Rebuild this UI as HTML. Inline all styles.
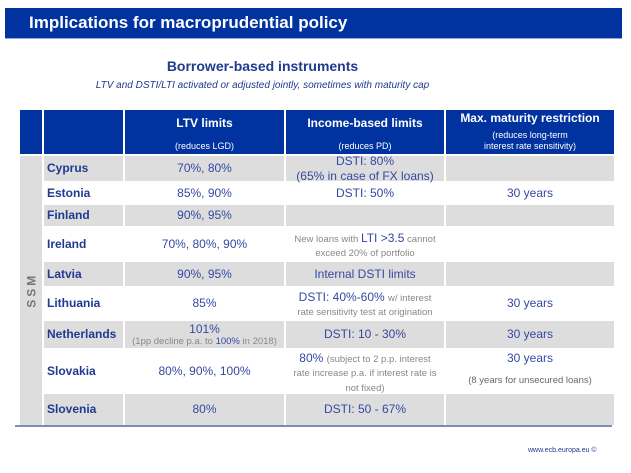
<!DOCTYPE html>
<html><head><meta charset="utf-8"><style>
body{margin:0;width:631px;height:473px;background:#fff;position:relative;overflow:hidden;font-family:"Liberation Sans",sans-serif}
.tb{position:absolute;left:5px;top:8px;width:617px;height:30px;background:#0033a0;border-bottom:1px solid #8fa6d8}
.tb span{position:absolute;left:24px;top:5px;color:#fff;font-weight:bold;font-size:17px}
.sub{position:absolute;left:0;width:525px;text-align:center;color:#1f3a8f}
.grid{position:absolute;left:20px;top:110px;display:grid;grid-template-columns:22px 79px 159px 158px 168px;grid-template-rows:44px 25px 20px 21px 32px 24px 31px 27px 42px 31px;gap:2px}
.grid>div{display:flex;align-items:center;justify-content:center;text-align:center;color:#3548a3;font-size:12px;line-height:1.2}
.grid>div.blk{display:block}
.h{background:#0033a0;color:#fff!important;flex-direction:column;justify-content:space-between!important;padding:6px 0 2px;box-sizing:border-box}
.h b{font-size:12px}.h small{font-size:9px}
.g{background:#dddddd}
.c{justify-content:flex-start!important;font-weight:bold;color:#1f3a8f!important;padding-left:3px}
.s{font-size:9.5px;color:#888}
.ssm{grid-row:2/11;grid-column:1;background:#dddddd}
.ssm span{transform:rotate(-90deg);font-weight:bold;color:#777;font-size:12px;letter-spacing:3px;white-space:nowrap}
</style></head><body>
<div class="tb"><span>Implications for macroprudential policy</span></div>
<div class="sub" style="top:58px;font-size:14px;font-weight:bold">Borrower-based instruments</div>
<div class="sub" style="top:80px;font-size:10px;font-style:italic">LTV and DSTI/LTI activated or adjusted jointly, sometimes with maturity cap</div>
<div class="grid">
<div class="h"></div>
<div class="h"></div>
<div class="h"><b>LTV limits</b><small>(reduces LGD)</small></div>
<div class="h"><b>Income-based limits</b><small>(reduces PD)</small></div>
<div class="h" style="padding-top:1px"><b>Max. maturity restriction</b><small>(reduces long-term<br>interest rate sensitivity)</small></div>
<div class="ssm"><span>SSM</span></div>
<div class="g c">Cyprus</div><div class="g">70%, 80%</div><div class="g">DSTI: 80%<br>(65% in case of FX loans)</div><div class="g"></div>
<div class="c">Estonia</div><div>85%, 90%</div><div>DSTI: 50%</div><div>30 years</div>
<div class="g c">Finland</div><div class="g">90%, 95%</div><div class="g"></div><div class="g"></div>
<div class="c">Ireland</div><div>70%, 80%, 90%</div><div class="blk" style="padding-top:3px"><span class="s">New loans with </span><span style="font-size:12px">LTI &gt;3.5</span><span class="s"> cannot<br>exceed 20% of portfolio</span></div><div></div>
<div class="g c">Latvia</div><div class="g">90%, 95%</div><div class="g">Internal DSTI limits</div><div class="g"></div>
<div class="c">Lithuania</div><div>85%</div><div class="blk" style="padding-top:2px"><span>DSTI: 40%-60%</span> <span class="s">w/ interest<br>rate sensitivity test at origination</span></div><div>30 years</div>
<div class="g c">Netherlands</div><div class="g" style="flex-direction:column">101%<span class="s">(1pp decline p.a. to <span style="color:#3548a3">100%</span> in 2018)</span></div><div class="g">DSTI: 10 - 30%</div><div class="g">30 years</div>
<div class="c">Slovakia</div><div>80%, 90%, 100%</div><div class="blk" style="padding-top:1px">80% <span class="s">(subject to 2 p.p. interest<br>rate increase p.a. if interest rate is<br>not fixed)</span></div><div style="flex-direction:column;justify-content:space-between;padding:1px 0 6px">30 years<span class="s" style="color:#666">(8 years for unsecured loans)</span></div>
<div class="g c">Slovenia</div><div class="g">80%</div><div class="g">DSTI: 50 - 67%</div><div class="g"></div>
</div>
<div style="position:absolute;left:15px;top:425px;width:597px;height:2px;background:#7a8cc0"></div>
<div style="position:absolute;left:528px;top:447px;font-size:7px;color:#1f3a8f">www.ecb.europa.eu ©</div>
</body></html>
